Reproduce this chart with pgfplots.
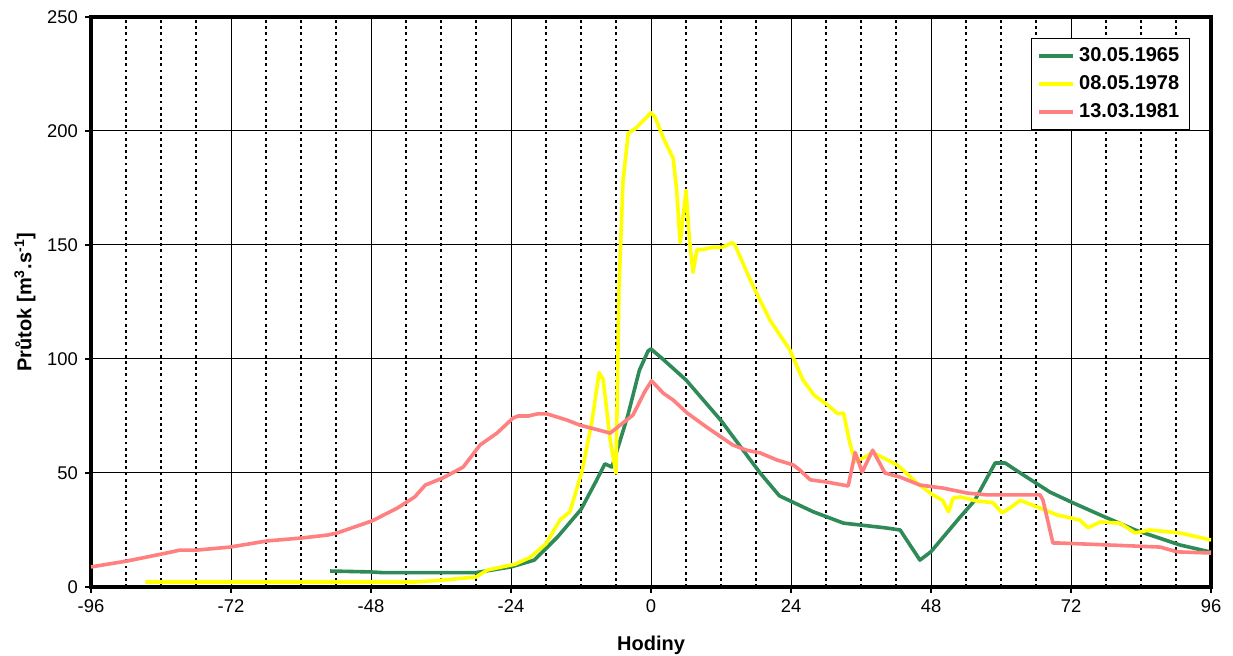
\documentclass[border=0pt]{standalone}
\usepackage{fontspec}
\setmainfont{Liberation Sans}
\usepackage{pgfplots}
\pgfplotsset{compat=1.18}
\definecolor{cgreen}{RGB}{46,139,87}
\definecolor{cyellow}{RGB}{255,255,0}
\definecolor{cred}{RGB}{255,128,128}
\begin{document}
\begin{tikzpicture}
\path[use as bounding box] (-45.5pt,-34.5pt) rectangle (571pt,293.5pt);
\begin{axis}[
 scale only axis, width=560pt, height=285pt,
 xmin=-96, xmax=96, ymin=0, ymax=250,
 xtick={-96,-72,...,96}, ytick={0,50,...,250},
 xtick pos=bottom, ytick pos=left,
 minor xtick={-90,-84,-78,-66,-60,-54,-42,-36,-30,-18,-12,-6,6,12,18,30,36,42,54,60,66,78,84,90},
 xmajorgrids, ymajorgrids, xminorgrids,
 major grid style={black, line width=0.5pt},
 minor grid style={black, line width=1.25pt, dash pattern=on 1.4pt off 1.7pt},
 minor tick length=0pt,
 tick align=outside, major tick length=3pt,
 tick style={black, line width=0.6pt},
 axis line style={black, line width=1.6pt},
 ticklabel style={font=\fontsize{9.2}{11}\selectfont},
 /pgf/number format/assume math mode=true,
 xlabel={Hodiny},
 ylabel={Průtok [m\textsuperscript{3}.s\textsuperscript{-1}]},
 label style={font=\fontsize{10}{12}\selectfont\bfseries},
 xlabel style={at={(axis description cs:0.5,-0.102)}, anchor=center},
 ylabel style={at={(axis description cs:-0.059,0.5)}, anchor=center},
 legend style={at={(axis description cs:0.981,0.963)}, anchor=north east,
   draw=black, line width=0.5pt, fill=white,
   font=\fontsize{10}{12}\selectfont\bfseries, row sep=1.5pt,
   inner xsep=3pt, inner ysep=2.5pt},
 legend cell align=left,
 legend image code/.code={\draw[#1, line width=1.8pt] (0pt,0pt) -- (17pt,0pt);},
 every axis plot/.append style={line width=1.8pt, line join=round},
]
\addplot[cgreen] coordinates {
(-55,7.0) (-48,6.6) (-46,6.3) (-40,6.3) (-30,6.3) (-24,8.8) (-20,11.8) (-16,22) (-12,34)
(-9.5,46) (-7.9,54) (-6.7,52.6) (-4,75) (-2,95) (-0.5,103.5) (0,104.4) (2,100) (6,90.8) (12,73)
(18.7,50) (22,40) (27.8,33) (33,28) (40,26) (42.7,25) (46.1,11.8) (48,15.5) (53,30.7)
(55.5,38) (59,54.4) (60.7,54.4) (63.3,50) (68.4,41.6) (72,37.3) (77,31.6) (83,25)
(90.7,18.4) (96,15.3)
};
\addplot[cyellow] coordinates {
(-86.7,2.2) (-40.5,2.2) (-35.7,3) (-30,4.4) (-28,7.5) (-23.3,10) (-20.7,13) (-18,19)
(-15.6,29.4) (-13.9,33) (-11.8,51) (-10.1,73) (-8.9,94) (-8.2,91) (-7,64.5) (-6,50)
(-5.5,130) (-4.8,178) (-3.9,199) (-2.7,201) (0,208) (0.7,206) (2.1,197) (3.8,188)
(4.4,174) (5,151) (6,174) (6.6,152) (7.2,138) (7.9,148) (8.9,148) (10.6,149) (12.2,149)
(13.9,151) (14.4,150) (17.3,133) (20.4,117) (23.8,104) (26,91) (28,84) (30.2,80) (32,76)
(33,76.3) (34.1,63) (35,55) (36.4,56.6) (38,59) (42.2,53.5) (43.2,51.3) (45.6,45.6)
(48.3,40.4) (50,38) (51,33) (51.8,39) (53,39.5) (55.9,37.7) (58.6,37) (60.2,32.5)
(61.5,34.6) (63.3,38) (66.7,34.6) (69.6,31.6) (73.5,29.4) (74.9,26) (77,28.5) (80.4,28)
(83,23.7) (85.5,25) (90.7,23.7) (96,20.6)
};
\addplot[cred] coordinates {
(-96,8.8) (-89.8,11.4) (-83.8,14.5) (-80.7,16.2) (-77.8,16.2) (-72.2,17.5) (-65.8,20.2)
(-59.8,21.5) (-55.4,22.8) (-53.8,23.7) (-47.8,29) (-43.5,34.6) (-40.5,39.5) (-38.7,44.7)
(-35.7,47.8) (-32.2,52.6) (-29.3,62.3) (-26.4,67.5) (-23.7,74) (-22.8,75) (-21,75)
(-19.5,75.9) (-17.8,75.9) (-14.4,73.2) (-12.2,71) (-7,67.5) (-3.1,75.4) (-1,86) (0.1,90.4)
(2.1,85) (3.8,82) (6.2,76.3) (9.6,70) (14,62.3) (16.4,60) (18.7,58.8) (21.6,55.7)
(24.4,53.5) (25.5,51.3) (27.3,47) (30.2,46) (33.8,44.3) (35,59) (36.2,50.4) (38,60)
(40.1,50) (42.7,48.2) (46.1,44.7) (50,43.4) (54.2,41.2) (57.6,40.4) (61.5,40.4)
(66.7,40.4) (67.2,38) (68.9,19.3) (69.8,19.3) (78.7,18.4) (87.3,17.5) (90.2,15.4) (96,14.9)
};
\legend{30.05.1965,08.05.1978,13.03.1981}
\end{axis}
\end{tikzpicture}
\end{document}
